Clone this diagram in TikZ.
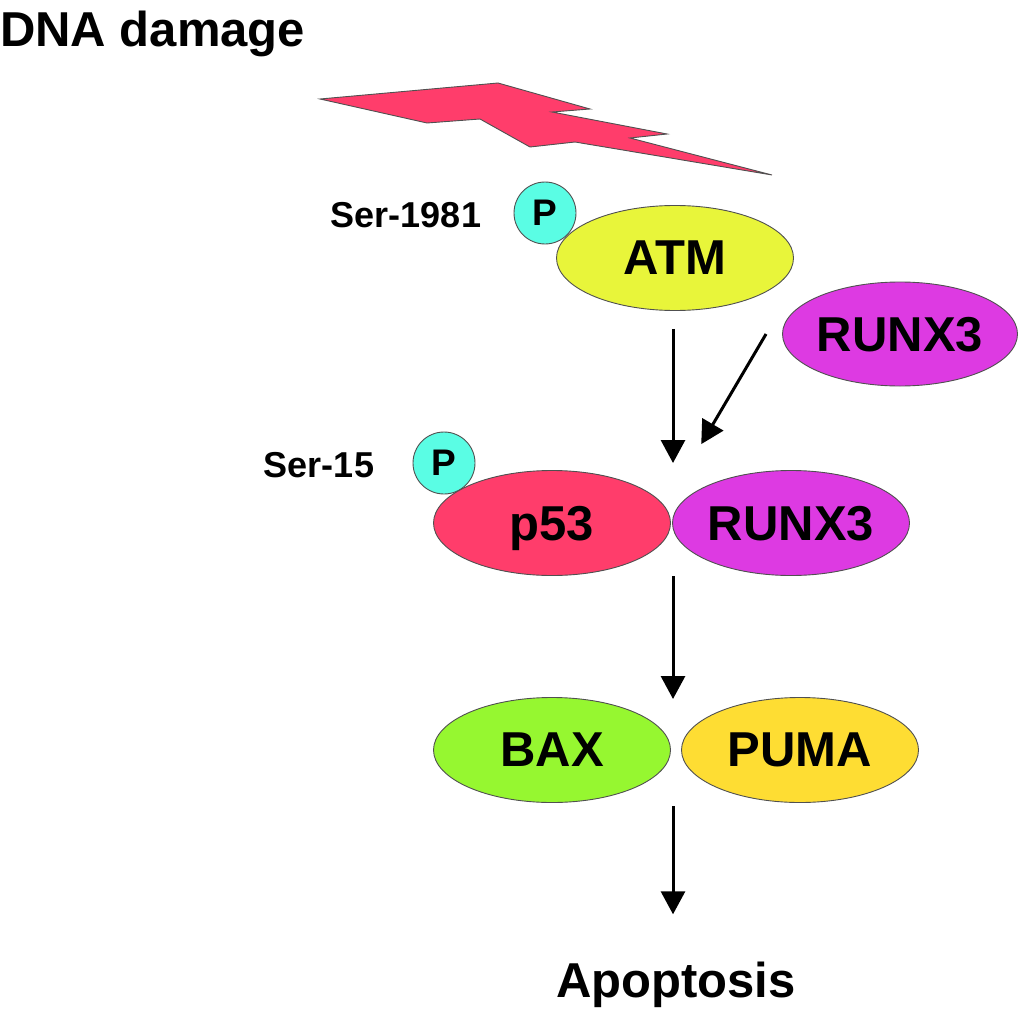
\documentclass[tikz,border=0pt]{standalone}
\usepackage{fontspec}
\setmainfont{Liberation Sans}
\usetikzlibrary{shapes.geometric,arrows.meta}
\definecolor{boltred}{RGB}{255,61,107}
\definecolor{atmyellow}{RGB}{232,245,58}
\definecolor{runxpink}{RGB}{221,58,226}
\definecolor{pcyan}{RGB}{90,253,228}
\definecolor{baxgreen}{RGB}{150,247,48}
\definecolor{pumayellow}{RGB}{254,221,51}
\definecolor{rim}{RGB}{80,80,80}

\begin{document}
\begin{tikzpicture}[x=1pt,y=-1pt,
	prot/.style={ellipse, draw=rim, line width=0.9pt, minimum width=237pt, minimum height=105pt, inner sep=0pt, text depth=0pt, font=\fontsize{49}{49}\selectfont\bfseries},
	phos/.style={circle, draw=rim, line width=0.9pt, fill=pcyan, minimum size=62pt, inner sep=0pt, text depth=0pt, font=\fontsize{37}{37}\selectfont\bfseries},
	site/.style={anchor=base, inner sep=0pt, font=\fontsize{36}{36}\selectfont\bfseries},
	arr/.style={-{Triangle[width=24pt,length=23pt]}, line width=3pt}]
	\useasboundingbox (0,0) rectangle (1024,1027);

	%Title
	\node[anchor=base west, inner sep=0pt, font=\fontsize{49}{49}\selectfont\bfseries] (dna) at (0,47) {DNA damage};

	%Lightning
	\draw[fill=boltred, draw=rim, line width=0.9pt] (320,99) -- (498,83) -- (590,109) -- (552,112) -- (667,134) -- (630,138) -- (772,175) -- (575,142) -- (530,147) -- (480,119) -- (427,123) -- cycle;

	%ATM
	\node[phos] (patm) at (545,213) {P};
	\node[site] (ser1981) at (406,227) {Ser-1981};
	\node[prot, fill=atmyellow] (atm) at (675,258) {ATM};
	\node[prot, fill=runxpink, minimum width=235pt, minimum height=104pt] (runxa) at (900,334) {RUNX3};

	%p53 - RUNX3
	\node[phos] (pp53) at (444,463) {P};
	\node[site] (ser15) at (319,477) {Ser-15};
	\node[prot, fill=boltred] (p53) at (552,523) {p53};
	\node[prot, fill=runxpink] (runxb) at (791,523) {RUNX3};

	%Targets
	\node[prot, fill=baxgreen] (bax) at (552,750) {BAX};
	\node[prot, fill=pumayellow] (puma) at (800,750) {PUMA};

	\node[anchor=base, inner sep=0pt, font=\fontsize{49}{49}\selectfont\bfseries] (apop) at (676,997) {Apoptosis};

	%Junctions
	\coordinate (jA) at (673,470);
	\coordinate (jB) at (673,576);
	\coordinate (jC) at (673,697);
	\coordinate (jD) at (673,803);
	\coordinate (bind) at (686,470);

	%Arrows
	\draw[arr, shorten <=18pt, shorten >=7pt] (atm.south -| jA) -- (jA);
	\draw[arr, shorten >=30pt] ([xshift=-16pt]runxa.west) -- (bind);
	\draw[arr, shorten >=-2pt] (jB) -- (jC);
	\draw[arr, shorten <=3pt, shorten >=47pt] (jD) -- (apop.north -| jD);

\end{tikzpicture}
\end{document}
